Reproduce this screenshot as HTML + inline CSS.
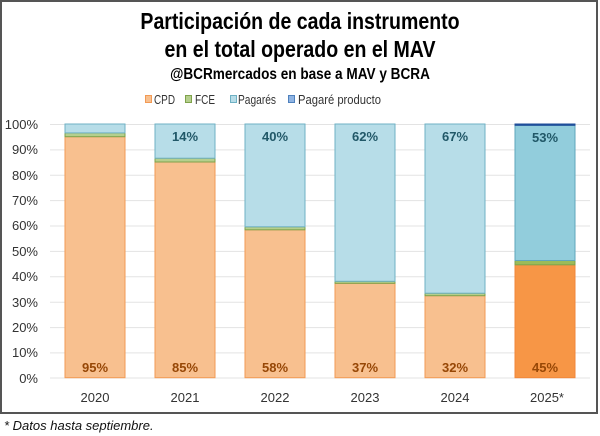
<!DOCTYPE html>
<html><head><meta charset="utf-8"><style>
body{margin:0;background:#fff;}
svg{display:block;font-family:"Liberation Sans",sans-serif;}
</style></head><body>
<svg width="600" height="436" viewBox="0 0 600 436">
<rect x="0" y="0" width="600" height="436" fill="#fff"/>
<rect x="1" y="1" width="596" height="412" fill="none" stroke="#555" stroke-width="2"/>
<g text-anchor="middle" font-weight="bold" fill="#000">
<text x="300" y="29" font-size="23" transform="translate(300 0) scale(0.85 1) translate(-300 0)">Participación de cada instrumento</text>
<text x="300" y="57" font-size="23" transform="translate(300 0) scale(0.85 1) translate(-300 0)">en el total operado en el MAV</text>
<text x="300" y="79" font-size="16" transform="translate(300 0) scale(0.85 1) translate(-300 0)">@BCRmercados en base a MAV y BCRA</text>
</g>
<g font-size="13" fill="#333">
<rect x="145.5" y="95.5" width="6" height="7" fill="#f8c08f" stroke="#f29a55"/><text x="154" y="104" textLength="21" lengthAdjust="spacingAndGlyphs">CPD</text>
<rect x="185.5" y="95.5" width="6" height="7" fill="#b5cf8d" stroke="#7fa24b"/><text x="195" y="104" textLength="20" lengthAdjust="spacingAndGlyphs">FCE</text>
<rect x="230.5" y="95.5" width="6" height="7" fill="#b7dde8" stroke="#6fb1c4"/><text x="238" y="104" textLength="38" lengthAdjust="spacingAndGlyphs">Pagarés</text>
<rect x="288.5" y="95.5" width="6" height="7" fill="#8fb4e3" stroke="#4f81bd"/><text x="298" y="104" textLength="83" lengthAdjust="spacingAndGlyphs">Pagaré producto</text>
</g>
<g stroke="#e3e3e3" stroke-width="1">
<line x1="50" x2="590" y1="124.5" y2="124.5"/><line x1="50" x2="590" y1="149.9" y2="149.9"/>
<line x1="50" x2="590" y1="175.3" y2="175.3"/><line x1="50" x2="590" y1="200.6" y2="200.6"/>
<line x1="50" x2="590" y1="226" y2="226"/><line x1="50" x2="590" y1="251.4" y2="251.4"/>
<line x1="50" x2="590" y1="276.8" y2="276.8"/><line x1="50" x2="590" y1="302.2" y2="302.2"/>
<line x1="50" x2="590" y1="327.6" y2="327.6"/><line x1="50" x2="590" y1="352.9" y2="352.9"/>
<line x1="50" x2="590" y1="378" y2="378"/>
</g>
<g font-size="13" fill="#333" text-anchor="end">
<text x="38" y="129">100%</text><text x="38" y="154">90%</text><text x="38" y="180">80%</text>
<text x="38" y="205">70%</text><text x="38" y="230">60%</text><text x="38" y="256">50%</text>
<text x="38" y="281">40%</text><text x="38" y="307">30%</text><text x="38" y="332">20%</text>
<text x="38" y="357">10%</text><text x="38" y="383">0%</text>
</g>
<g stroke-width="1">
<rect x="65" y="136.7" width="60" height="241" fill="#f8c08f" stroke="#f29a55"/>
<rect x="65" y="132.9" width="60" height="3.8" fill="#b5cf8d" stroke="#7fa24b"/>
<rect x="65" y="124" width="60" height="8.9" fill="#b7dde8" stroke="#6fb1c4"/>
<rect x="155" y="162" width="60" height="215.7" fill="#f8c08f" stroke="#f29a55"/>
<rect x="155" y="158.2" width="60" height="3.8" fill="#b5cf8d" stroke="#7fa24b"/>
<rect x="155" y="124" width="60" height="34.2" fill="#b7dde8" stroke="#6fb1c4"/>
<rect x="245" y="229.8" width="60" height="147.9" fill="#f8c08f" stroke="#f29a55"/>
<rect x="245" y="226.8" width="60" height="3" fill="#b5cf8d" stroke="#7fa24b"/>
<rect x="245" y="124" width="60" height="102.8" fill="#b7dde8" stroke="#6fb1c4"/>
<rect x="335" y="283.3" width="60" height="94.4" fill="#f8c08f" stroke="#f29a55"/>
<rect x="335" y="281.3" width="60" height="2" fill="#b5cf8d" stroke="#7fa24b"/>
<rect x="335" y="124" width="60" height="157.3" fill="#b7dde8" stroke="#6fb1c4"/>
<rect x="425" y="295.7" width="60" height="82" fill="#f8c08f" stroke="#f29a55"/>
<rect x="425" y="293.2" width="60" height="2.5" fill="#b5cf8d" stroke="#7fa24b"/>
<rect x="425" y="124" width="60" height="169.2" fill="#b7dde8" stroke="#6fb1c4"/>
<rect x="515" y="264.8" width="60" height="112.9" fill="#f79646" stroke="#f0873a"/>
<rect x="515" y="260.5" width="60" height="4.3" fill="#9bbb59" stroke="#7fa24b"/>
<rect x="515" y="125.3" width="60" height="135.2" fill="#92cddc" stroke="#5fa6bb"/>
<rect x="515" y="124" width="60" height="1.3" fill="#1f4e9a" stroke="#1f4e9a"/>
</g>
<g font-size="13" font-weight="bold" text-anchor="middle">
<g fill="#974706">
<text x="95" y="372">95%</text><text x="185" y="372">85%</text><text x="275" y="372">58%</text>
<text x="365" y="372">37%</text><text x="455" y="372">32%</text><text x="545" y="372">45%</text>
</g>
<g fill="#215868">
<text x="185" y="141">14%</text><text x="275" y="141">40%</text><text x="365" y="141">62%</text>
<text x="455" y="141">67%</text><text x="545" y="142">53%</text>
</g>
</g>
<g font-size="13" fill="#333" text-anchor="middle">
<text x="95" y="402">2020</text><text x="185" y="402">2021</text><text x="275" y="402">2022</text>
<text x="365" y="402">2023</text><text x="455" y="402">2024</text><text x="547" y="402">2025*</text>
</g>
<text x="4" y="430" font-size="13" font-style="italic" fill="#111">* Datos hasta septiembre.</text>
</svg>
</body></html>
